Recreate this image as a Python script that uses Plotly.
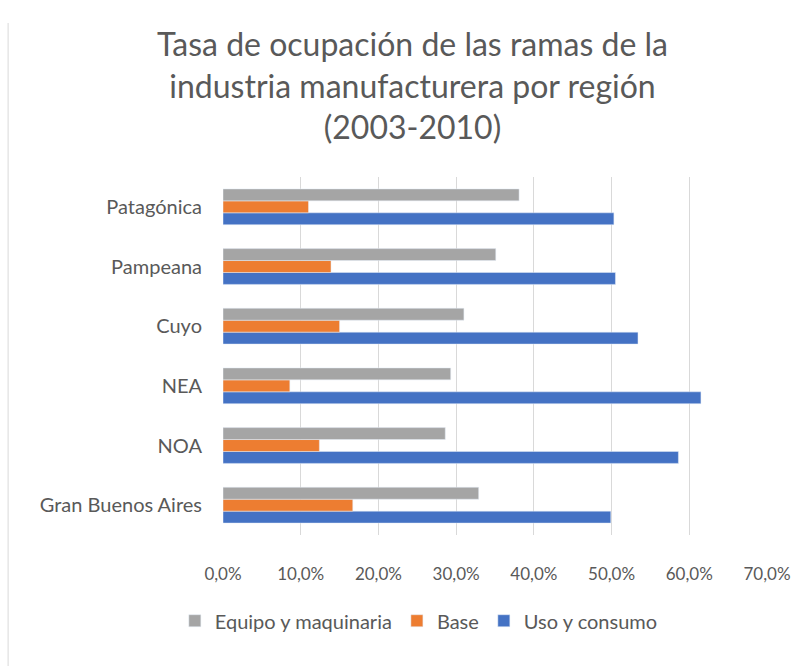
import plotly.graph_objects as go

# Regiones, de abajo hacia arriba en el eje vertical
regiones = ["Gran Buenos Aires", "NOA", "NEA", "Cuyo", "Pampeana", "Patagónica"]

# Tasa de ocupación por rama (fracción)
uso_consumo = [0.499, 0.586, 0.615, 0.534, 0.505, 0.503]
base = [0.167, 0.124, 0.086, 0.150, 0.139, 0.110]
equipo_maquinaria = [0.329, 0.286, 0.293, 0.310, 0.351, 0.381]

titulo = ("Tasa de ocupación de las ramas de la<br>"
          "industria manufacturera por región<br>(2003-2010)")

fuente = "Lato"
gris_texto = "#595959"

fig = go.Figure()
fig.add_trace(go.Bar(name="Uso y consumo", y=regiones, x=uso_consumo,
                     orientation="h", marker_color="#4472C4"))
fig.add_trace(go.Bar(name="Base", y=regiones, x=base,
                     orientation="h", marker_color="#ED7D31"))
fig.add_trace(go.Bar(name="Equipo y maquinaria", y=regiones, x=equipo_maquinaria,
                     orientation="h", marker_color="#A5A5A5"))

fig.update_layout(
    width=812, height=666,
    margin=dict(l=223, r=45, t=177, b=131),
    paper_bgcolor="white", plot_bgcolor="white",
    barmode="group", bargap=0.4, bargroupgap=0,
    separators=",.",
    font=dict(family=fuente, color=gris_texto, size=19),
    title=dict(text=titulo, x=0.508, xanchor="center",
               yref="container", y=1 - 56 / 666, yanchor="middle",
               font=dict(family=fuente, size=32, color=gris_texto)),
    legend=dict(orientation="h", traceorder="reversed",
                x=0.36, xanchor="center", y=-0.185, yanchor="top",
                font=dict(size=20, color=gris_texto)),
    xaxis=dict(range=[0, 0.70], dtick=0.1, tickformat=".1%",
               showgrid=True, gridcolor="#D9D9D9", gridwidth=1,
               zeroline=False, showline=False, ticks="",
               ticklabelstandoff=27, tickfont=dict(size=17)),
    yaxis=dict(showgrid=False, zeroline=False, showline=False, ticks="",
               ticklabelstandoff=20, tickfont=dict(size=20)),
    shapes=[dict(type="line", xref="paper", yref="paper",
                 x0=-0.395, x1=-0.395, y0=-0.37, y1=0.5 + 0.5 * 666 / 358,
                 line=dict(color="#D9D9D9", width=1))],
)

fig.write_html("out.html")
